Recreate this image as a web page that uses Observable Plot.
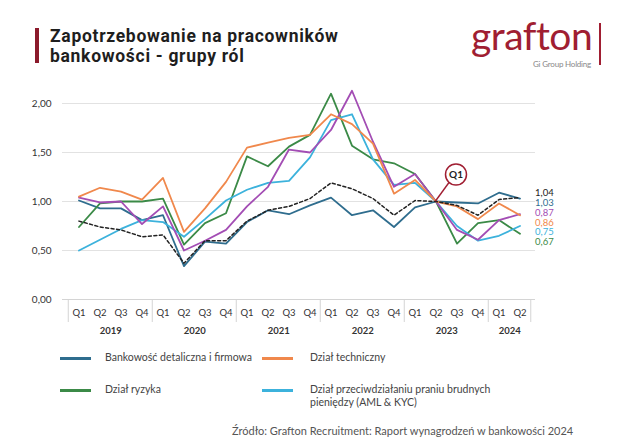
<!DOCTYPE html>
<html>
<head>
<meta charset="utf-8">
<script src="https://cdn.jsdelivr.net/npm/d3@7"></script>
<script src="https://cdn.jsdelivr.net/npm/@observablehq/plot@0.6"></script>
<style>
  html, body { margin: 0; padding: 0; background: #fff; }
  #page { position: relative; width: 640px; height: 447px; overflow: hidden; font-family: Lato, "Open Sans", sans-serif; color: #222; }
  #bar { position: absolute; left: 35px; top: 28px; width: 4px; height: 35px; background: #8b1a2b; }
  .title { position: absolute; left: 50px; font-size: 17.5px; line-height: 20.5px; height: 20.5px; font-weight: 700; color: #1e1e1e; font-family: Roboto, "Open Sans", sans-serif; letter-spacing: 0.7px; white-space: nowrap; }
  #logo { position: absolute; left: 471px; top: 17px; font-size: 39px; line-height: 36px; font-family: Lato, sans-serif; color: #a01e32; letter-spacing: -0.5px; }
  #logoline { position: absolute; left: 599px; top: 23px; width: 1.5px; height: 42px; background: #a01e32; }
  #logosub { position: absolute; left: 533px; top: 60px; font-size: 8px; line-height: 9px; color: #888; font-family: Lato, sans-serif; letter-spacing: -0.2px; }
  #chart { position: absolute; left: 0; top: 70px; }
  .leg { position: absolute; font-size: 10.5px; color: #444; line-height: 13px; }
  .sw { position: absolute; height: 3px; width: 31px; }
  #source { position: absolute; left: 232px; top: 424px; font-size: 11px; color: #555; }
</style>
</head>
<body>
<div id="page">
  <div id="bar"></div>
  <div class="title" style="top:25.5px">Zapotrzebowanie na pracowników</div>
  <div class="title" style="top:46px">bankowości - grupy ról</div>
  <div id="logo">grafton</div>
  <div id="logoline"></div>
  <div id="logosub">Gi Group Holding</div>
  <div id="chart"></div>
  <div id="legend"></div>
  <div id="source">Źródło: Grafton Recruitment: Raport wynagrodzeń w bankowości 2024</div>
</div>
<script>
// ---- data ----
const years = [2019, 2020, 2021, 2022, 2023, 2024];
const quarterLabels = ["Q1", "Q2", "Q3", "Q4"];
const yTicks = [0, 0.5, 1, 1.5, 2];

const bankowosc = [1.01, 0.93, 0.93, 0.81, 0.86, 0.34, 0.59, 0.57, 0.79, 0.91, 0.87, 0.96, 1.04, 0.86, 0.91, 0.74, 0.94, 1.00, 0.99, 0.98, 1.09, 1.03];
const techniczny = [1.05, 1.14, 1.10, 1.02, 1.24, 0.69, 0.93, 1.20, 1.55, 1.60, 1.65, 1.68, 1.89, 1.79, 1.59, 1.08, 1.22, 1.00, 0.95, 0.82, 0.98, 0.86];
const ryzyka = [0.74, 0.98, 1.00, 1.00, 1.03, 0.56, 0.78, 0.88, 1.46, 1.36, 1.56, 1.68, 2.10, 1.57, 1.43, 1.39, 1.28, 1.00, 0.57, 0.78, 0.81, 0.67];
const aml = [0.50, 0.61, 0.72, 0.81, 0.79, 0.64, 0.82, 1.01, 1.12, 1.19, 1.21, 1.45, 1.83, 1.89, 1.43, 1.17, 1.19, 1.00, 0.75, 0.60, 0.65, 0.75];
const inne = [1.04, 0.99, 1.00, 0.77, 0.95, 0.50, 0.60, 0.71, 0.95, 1.15, 1.53, 1.50, 1.73, 2.13, 1.61, 1.15, 1.28, 1.00, 0.71, 0.61, 0.81, 0.87];
const srednia = [0.80, 0.74, 0.71, 0.64, 0.66, 0.37, 0.60, 0.60, 0.80, 0.91, 0.95, 1.03, 1.19, 1.13, 1.03, 0.86, 1.01, 1.00, 0.96, 0.86, 1.02, 1.04];

const seriesNames = ["Bankowość detaliczna i firmowa", "Dział techniczny", "Dział ryzyka", "Dział przeciwdziałaniu praniu brudnych pieniędzy (AML & KYC)", "Inne", "Średnia"];
const seriesValues = [bankowosc, techniczny, ryzyka, aml, inne, srednia];
const seriesColors = ["#2f6d8e", "#f0884c", "#3b8a47", "#3cb2dc", "#a34db4", "#222222"];
const seriesDash = [null, null, null, null, null, "3,2.5"];
const legendSeries = [0, 1, 2, 3];

const annotationKey = "2023-Q2";
const annotationText = "Q1";

// ---- build ----
const keys = [];
const keyQuarter = {};
years.forEach(y => quarterLabels.forEach(q => {
  if (y === 2024 && (q === "Q3" || q === "Q4")) return;
  const k = y + "-" + q; keys.push(k); keyQuarter[k] = q;
}));
const rows = seriesNames.map((name, s) => seriesValues[s].map((v, i) => ({ key: keys[i], value: v, s })));

const lastKey = keys[keys.length - 1];
const lasts = seriesValues.map((vals, s) => ({ s, value: vals[vals.length - 1] }))
  .sort((a, b) => b.value - a.value);
const topLast = lasts[0].value;
lasts.forEach((d, r) => { d.labelY = topLast + 0.045 - r * 0.1; });

const yearFirst = years.map(y => keys.find(k => k.startsWith(y + "-")));
const yearMid = years.map(y => { const ks = keys.filter(k => k.startsWith(y + "-")); return { year: y, key: ks[Math.floor((ks.length - 1) / 2)] }; });

const W = 640, H = 280, ML = 62, MR = 105, MT = 13.4, MB = 51;
const bw = (W - ML - MR) / keys.length;
const fmt = d => d.toFixed(2).replace(".", ",");

const marks = [
  Plot.ruleY([0.5, 1, 1.5, 2], { stroke: "#e2e2e2", strokeWidth: 1 }),
  Plot.ruleY([0], { stroke: "#d4d4d4", strokeWidth: 1 }),
  Plot.ruleX(yearFirst, { x: d => d, y1: 0, y2: -0.235, dx: -bw / 2, stroke: "#d4d4d4" }),
  Plot.ruleX([lastKey], { x: d => d, y1: 0, y2: -0.235, dx: bw / 2, stroke: "#d4d4d4" }),
  Plot.text(keys, { x: d => d, y: 0, dy: 13, text: d => keyQuarter[d], fontSize: 9.5, fill: "#333" }),
  Plot.text(yearMid, { x: "key", y: 0, dy: 31, dx: bw / 2, text: d => String(d.year), fontSize: 9.5, fontWeight: 700, fill: "#333" }),
];
[0, 2, 3, 4, 1, 5].forEach(s => {
  marks.push(Plot.line(rows[s], { x: "key", y: "value", stroke: seriesColors[s], strokeWidth: s === 5 ? 1.5 : 1.8, strokeDasharray: seriesDash[s] || undefined, strokeLinejoin: "round" }));
});
marks.push(Plot.text(lasts, { x: () => lastKey, y: "labelY", text: d => fmt(d.value), fill: d => seriesColors[d.s], dx: 15, textAnchor: "start", fontSize: 9.5 }));
marks.push(Plot.dot([annotationKey], { x: d => d, y: () => 1, dx: 20, dy: -27, r: 10.5, stroke: "#a01e32", strokeWidth: 1.5, fill: "white" }));
marks.push(Plot.text([annotationKey], { x: d => d, y: () => 1, dx: 20, dy: -27, text: () => annotationText, fontWeight: 700, fontSize: 10, fill: "#222" }));

const plot = Plot.plot({
  width: W, height: H, marginLeft: ML, marginRight: MR, marginTop: MT, marginBottom: MB,
  x: { type: "band", domain: keys, padding: 0, axis: null },
  y: { domain: [0, 2.2], ticks: yTicks, tickFormat: fmt, tickSize: 0, tickPadding: 11, label: null },
  style: { fontFamily: "Lato, 'Open Sans', sans-serif", fontSize: "10px", color: "#333", overflow: "visible", background: "transparent" },
  marks
});
document.getElementById("chart").appendChild(plot);

// callout pointer line using the plot's scales
const xs = plot.scale("x"), ys = plot.scale("y");
const px = xs.apply(annotationKey) + (xs.bandwidth || bw) / 2;
const py = ys.apply(1);
d3.select(plot).append("line")
  .attr("x1", px).attr("y1", py)
  .attr("x2", px + 20 - 6.5).attr("y2", py - 27 + 8.5)
  .attr("stroke", "#a01e32").attr("stroke-width", 1.4);

// legend
const legendPos = [[60, 105, 351], [262, 310, 351], [60, 105, 383], [262, 310, 383]];
const legend = document.getElementById("legend");
legendSeries.forEach((s, i) => {
  const [sx, tx, ty] = legendPos[i];
  const sw = document.createElement("div");
  sw.className = "sw"; sw.style.left = sx + "px"; sw.style.top = (ty + 6) + "px"; sw.style.background = seriesColors[s];
  legend.appendChild(sw);
  const t = document.createElement("div");
  t.className = "leg"; t.style.left = tx + "px"; t.style.top = ty + "px";
  t.style.width = "200px";
  t.textContent = seriesNames[s];
  legend.appendChild(t);
});
</script>
</body>
</html>
